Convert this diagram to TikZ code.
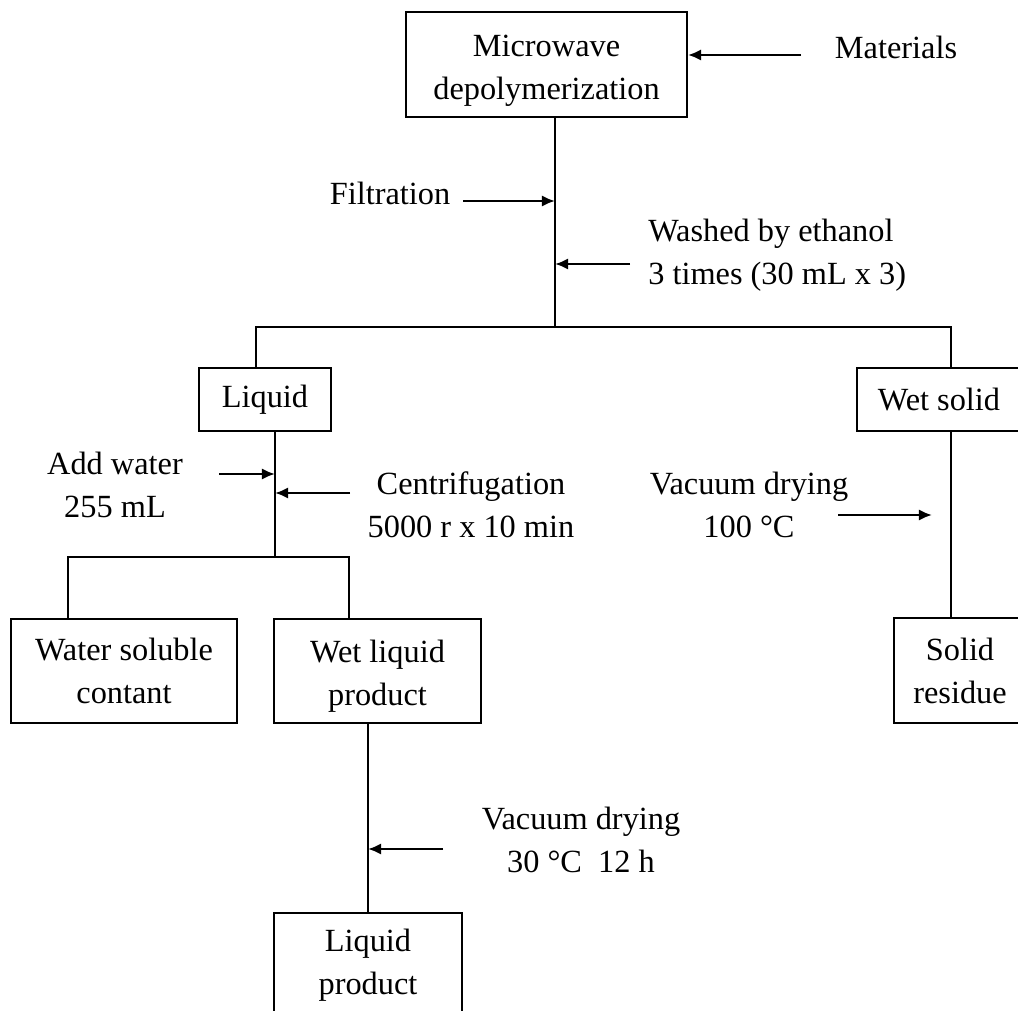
\documentclass[tikz,border=0pt]{standalone}
\usepackage{fontspec}
\setmainfont{Liberation Serif}
\usetikzlibrary{arrows.meta}
\begin{document}
\begin{tikzpicture}[x=0.025cm,y=-0.025cm,
    font=\fontsize{23}{30.5}\selectfont,
    box/.style={draw,line width=1.3pt,align=center,inner sep=0pt},
    txt/.style={align=center,inner sep=0pt},
    link/.style={line width=1.3pt},
    arr/.style={line width=2.1pt,-{Latex[length=3.3mm,width=2.9mm]}}]
  \useasboundingbox (0,0) rectangle (1018,1011);
  \clip (0,0) rectangle (1018,1011);
  \node[box,minimum width=7.025cm,minimum height=2.625cm] (mw) at (546.5,64.5) {\rule{0pt}{24pt}Microwave\\depolymerization};
  \node[box,minimum width=3.3cm,minimum height=1.575cm] (liq) at (265,399.5) {Liquid};
  \node[box,minimum width=4.1cm,minimum height=1.575cm] (wet) at (939,399.5) {Wet solid};
  \node[box,minimum width=5.65cm,minimum height=2.6cm] (wsc) at (124,671) {Water soluble\\contant};
  \node[box,minimum width=5.175cm,minimum height=2.6cm] (wlp) at (377.5,671) {\rule{0pt}{23pt}Wet liquid\\product};
  \node[box,minimum width=4.7cm,minimum height=2.6cm] (lp) at (368,965) {Liquid\\product};
  \node[box,minimum width=3.3cm,minimum height=2.625cm] (sres) at (960,670.5) {Solid\\residue};
  \node[txt] (mat) at (896,47) {Materials};
  \node[txt] (filt) at (390,193) {Filtration};
  \node[txt,align=left,anchor=west] (wash) at (648,255) {Washed by ethanol\\3 times (30 mL x 3)};
  \node[txt] (addw) at (115,485) {Add water\\255 mL};
  \node[txt] (centr) at (471,505) {Centrifugation\\5000 r x 10 min};
  \node[txt] (vac1) at (749,505) {Vacuum drying\\100 °C};
  \node[txt] (vac2) at (581,840) {Vacuum drying\\30 °C\ \ 12 h};
  \coordinate (s1) at (555,327);
  \coordinate (sL) at (256,327);
  \coordinate (sR) at (951,327);
  \coordinate (s2) at (275,557);
  \coordinate (sL2) at (68,557);
  \coordinate (sR2) at (349,557);
  \draw[link] (mw.south -| s1) -- (s1);
  \draw[link] (liq.north -| sL) |- (sR) -- (wet.north -| sR);
  \draw[link] (liq.south -| s2) -- (s2);
  \draw[link] (wsc.north -| sL2) |- (sR2) -- (wlp.north -| sR2);
  \draw[link] (wlp.south -| lp.north) -- (lp.north);
  \draw[link] (wet.south -| sR) -- (sres.north -| sR);
  \coordinate (matT) at (801,55);
  \coordinate (filtT) at (463,201);
  \coordinate (washT) at (630,264);
  \coordinate (addT) at (219,474);
  \coordinate (centT) at (350,493);
  \coordinate (vac1T) at (838,515);
  \coordinate (vac1H) at (932,515);
  \coordinate (vac2T) at (443,849);
  \draw[arr] (matT) -- (matT -| mw.east);
  \draw[arr] (filtT) -- (filtT -| s1);
  \draw[arr] (washT) -- (washT -| s1);
  \draw[arr] (addT) -- (addT -| s2);
  \draw[arr] (centT) -- (centT -| s2);
  \draw[arr] (vac1T) -- (vac1H);
  \draw[arr] (vac2T) -- (vac2T -| lp.north);
\end{tikzpicture}
\end{document}
